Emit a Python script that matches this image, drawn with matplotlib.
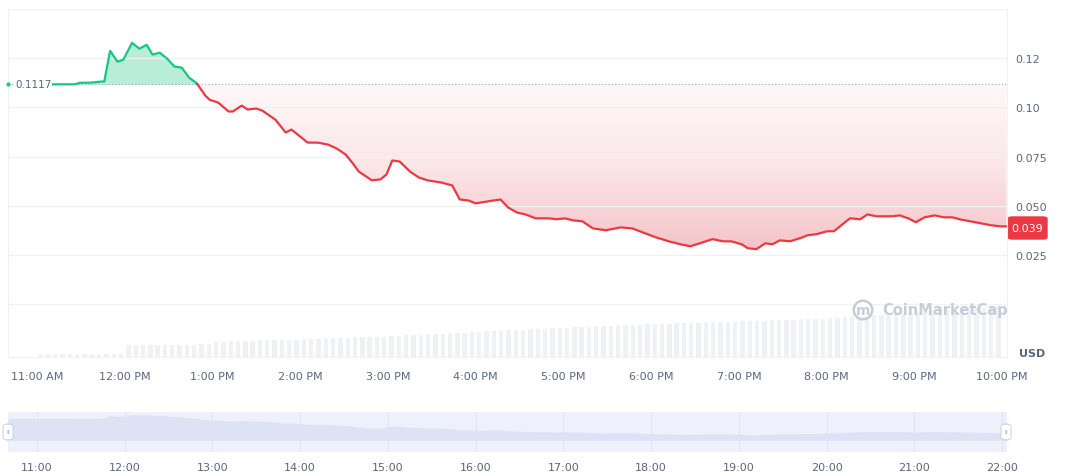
import matplotlib
matplotlib.use("Agg")
import matplotlib.pyplot as plt
import numpy as np
from matplotlib.patches import FancyBboxPatch, Polygon
from matplotlib.colors import LinearSegmentedColormap

# minutes after 11:00 AM and price in USD
minutes = [8, 26, 29, 36, 43, 46, 50, 55, 59, 65, 70, 75, 79, 84, 89, 94, 99, 104, 109, 115,
           118, 124, 131, 134, 140, 144, 150, 154, 158, 163, 170, 174, 180, 185, 192, 199, 205,
           211, 215, 220, 224, 229, 235, 239, 243, 248, 255, 261, 267, 276, 284, 289, 295, 300,
           308, 317, 322, 328, 334, 341, 350, 355, 361, 366, 373, 380, 389, 399, 407, 414, 423,
           432, 440, 447, 453, 462, 469, 475, 482, 486, 492, 498, 503, 508, 515, 522, 527, 533,
           540, 545, 551, 556, 563, 568, 574, 579, 585, 590, 596, 601, 607, 614, 620, 626, 631,
           638, 645, 652, 659, 663]
prices = [0.1117, 0.1117, 0.1125, 0.1125, 0.1131, 0.1131, 0.1288, 0.1232, 0.1242, 0.1328,
          0.1298, 0.1318, 0.1268, 0.1278, 0.1248, 0.1207, 0.1202, 0.1151, 0.1125, 0.1060,
          0.1039, 0.1024, 0.0979, 0.0979, 0.1009, 0.0989, 0.0994, 0.0984, 0.0963, 0.0938,
          0.0872, 0.0887, 0.0852, 0.0821, 0.0821, 0.0811, 0.0791, 0.0761, 0.0725, 0.0674,
          0.0654, 0.0629, 0.0634, 0.0659, 0.0730, 0.0725, 0.0674, 0.0644, 0.0629, 0.0619,
          0.0603, 0.0532, 0.0527, 0.0512, 0.0522, 0.0532, 0.0492, 0.0466, 0.0456, 0.0436,
          0.0436, 0.0431, 0.0436, 0.0426, 0.0421, 0.0385, 0.0375, 0.0390, 0.0385, 0.0365,
          0.0340, 0.0319, 0.0304, 0.0294, 0.0309, 0.0330, 0.0319, 0.0319, 0.0304, 0.0284,
          0.0279, 0.0309, 0.0304, 0.0324, 0.0319, 0.0335, 0.0350, 0.0355, 0.0370, 0.0370,
          0.0406, 0.0436, 0.0431, 0.0456, 0.0446, 0.0446, 0.0446, 0.0451, 0.0436, 0.0416,
          0.0441, 0.0451, 0.0441, 0.0441, 0.0431, 0.0421, 0.0411, 0.0401, 0.0395, 0.0395]
base_price = 0.1117
last_price = 0.039

# volume bars, one per 5 minutes (arbitrary units)
volume = [3, 3, 3, 3, 3, 3, 3, 3, 3, 3, 3, 3,
          12, 12, 12, 12, 12, 12, 12, 12, 12, 12, 13, 13,
          15, 15, 16, 16, 16, 16, 17, 17, 17, 17, 17, 17,
          18, 18, 18, 19, 19, 19, 19, 20, 20, 20, 20, 20,
          21, 21, 22, 22, 22, 23, 23, 23, 24, 24, 24, 25,
          25, 26, 26, 26, 27, 27, 27, 28, 28, 28, 29, 29,
          29, 30, 30, 30, 31, 31, 31, 32, 32, 32, 32, 33,
          33, 33, 33, 34, 34, 34, 34, 35, 35, 35, 35, 35,
          36, 36, 36, 36, 37, 37, 37, 37, 38, 38, 38, 38,
          39, 39, 40, 40, 41, 41, 42, 42, 43, 43, 44, 44,
          45, 45, 46, 46, 47, 47, 48, 48, 49, 49, 50, 50]
top_labels = ["11:00 AM", "12:00 PM", "1:00 PM", "2:00 PM", "3:00 PM", "4:00 PM", "5:00 PM",
              "6:00 PM", "7:00 PM", "8:00 PM", "9:00 PM", "10:00 PM"]
nav_labels = ["11:00", "12:00", "13:00", "14:00", "15:00", "16:00", "17:00", "18:00",
              "19:00", "20:00", "21:00", "22:00"]

GREEN = "#16c784"
RED = "#ea3943"
TXT = "#58667e"

W, H = 1072, 477
fig = plt.figure(figsize=(W / 100, H / 100), dpi=100)
fig.patch.set_facecolor("white")


def frac(x0, y0, x1, y1):
    return [x0 / W, 1 - y1 / H, (x1 - x0) / W, (y1 - y0) / H]


# x pixel 37 = 0 min, 1002 = 660 min; axes spans 8..1007
xmin = -(37 - 8) / 965 * 660
xmax = xmin + (1007 - 8) / 965 * 660

ax = fig.add_axes(frac(8, 10, 1007, 358))
axv = ax.twinx()
ax.set_zorder(2)
ax.patch.set_visible(False)

vx = np.arange(len(volume)) * 5 + 2.5
axv.bar(vx, volume, width=3.0, color="#eff2f5", zorder=0)
axv.set_ylim(0, 348)
axv.set_yticks([])

ymin, ymax = -0.0269, 0.1496
t = np.array(minutes, float)
p = np.array(prices)

td = np.linspace(t[0], t[-1], 3000)
pd_ = np.interp(td, t, p)
ax.fill_between(td, pd_, base_price, where=pd_ >= base_price, color=GREEN, alpha=0.3,
                linewidth=0, interpolate=True)

# red gradient below the baseline, clipped to the area under the baseline
grad = np.linspace(0, 1, 256).reshape(-1, 1)
cmap = LinearSegmentedColormap.from_list("r2", ["#f5c4c8", "#fbe6e8", "#fff8f8"])
img = ax.imshow(grad, extent=[xmin, xmax, 0.028, base_price], origin="lower", cmap=cmap,
                aspect="auto", zorder=1, vmin=0, vmax=1)
pl = np.minimum(pd_, base_price)
verts = list(zip(td, pl)) + [(td[-1], base_price), (td[0], base_price)]
poly = Polygon(verts, closed=True, transform=ax.transData, facecolor="none", edgecolor="none")
ax.add_patch(poly)
img.set_clip_path(poly)

flat_or_up = pd_ >= base_price - 1e-6
above = np.where(flat_or_up, pd_, np.nan)
below = np.where(pd_ <= base_price - 1e-6, pd_, np.nan)
# join the crossing point to avoid gaps
cross = np.where(np.diff(flat_or_up.astype(int)) != 0)[0]
for i in cross:
    below[i] = pd_[i]
ax.plot(td, above, color=GREEN, lw=1.6, zorder=3)
ax.plot(td, below, color=RED, lw=1.6, zorder=3)
ax.axhline(base_price, color="#a0a7b4", lw=0.8, ls=(0, (1, 2)), zorder=2)

ax.set_xlim(xmin, xmax)
axv.set_xlim(xmin, xmax)
ax.set_ylim(ymin, ymax)
yt = [0, 0.025, 0.05, 0.075, 0.1, 0.125, 0.15]
ax.set_yticks(yt)
ax.set_yticklabels(["", "0.025", "0.050", "0.075", "0.10", "0.12", ""])
ax.yaxis.tick_right()
ax.tick_params(axis="y", length=0, labelsize=8, labelcolor=TXT, pad=6)
ax.grid(axis="y", color="#eff2f5", lw=1)
ax.set_xticks(np.arange(0, 661, 60))
ax.set_xticklabels(top_labels)
ax.tick_params(axis="x", length=0, labelsize=8, labelcolor=TXT, pad=10)
for a in (ax, axv):
    for s in a.spines.values():
        s.set_visible(False)
for side in ("left", "right", "bottom"):
    ax.spines[side].set_visible(True)
    ax.spines[side].set_color("#eff2f5")

# labels
ax.plot([xmin], [base_price], marker="o", ms=2, color=GREEN, clip_on=False, zorder=4)
ax.text(xmin + 5, base_price, "0.1117", fontsize=7.5, color=TXT, va="center", ha="left",
        zorder=4, bbox=dict(facecolor="white", edgecolor="none", pad=0.5))
fig.patches.append(FancyBboxPatch((1008 / W, 1 - 240 / H), 39 / W, 22 / H,
                                  boxstyle="round,pad=0,rounding_size=0.004",
                                  transform=fig.transFigure, color=RED))
fig.text(1027.5 / W, 1 - 229 / H, f"{last_price:.3f}", color="white", fontsize=8,
         ha="center", va="center")
fig.text(1032 / W, 1 - 354 / H, "USD", color=TXT, fontsize=8, fontweight="bold",
         ha="center", va="center")
fig.text(882 / W, 1 - 311 / H, "CoinMarketCap", color="#c7ccd6", fontsize=10.5,
         fontweight="bold", ha="left", va="center")
fig.text(863 / W, 1 - 311 / H, "m", color="#c7ccd6", fontsize=10, fontweight="bold",
         ha="center", va="center",
         bbox=dict(boxstyle="circle,pad=0.15", facecolor="white", edgecolor="#c7ccd6", lw=1.8))

# navigator
axn = fig.add_axes(frac(8, 413, 1007, 453))
axn.set_facecolor("#eef1fc")
axn.fill_between([xmin] + minutes + [xmax], [prices[0]] + prices + [prices[-1]], 0,
                 color="#dde3f4", lw=0)
axn.set_xlim(xmin, xmax)
axn.set_ylim(-0.06, 0.145)
for m in range(0, 661, 60):
    axn.axvline(m, color="#dfe4f3", lw=0.8)
axn.set_xticks(np.arange(0, 661, 60))
axn.set_xticklabels(nav_labels)
axn.tick_params(axis="x", length=0, labelsize=8, labelcolor=TXT, pad=7)
axn.set_yticks([])
for s in axn.spines.values():
    s.set_visible(False)
for hx in (8, 1006):
    fig.patches.append(FancyBboxPatch(((hx - 5) / W, 1 - 441 / H), 10 / W, 16 / H,
                                      boxstyle="round,pad=0,rounding_size=0.005",
                                      transform=fig.transFigure, facecolor="white",
                                      edgecolor="#cfd6e4", lw=0.8))
    fig.text(hx / W, 1 - 433 / H, "II", fontsize=4.5, color="#9aa3b3", ha="center", va="center")

fig.savefig("out.png", dpi=100, facecolor="white")
